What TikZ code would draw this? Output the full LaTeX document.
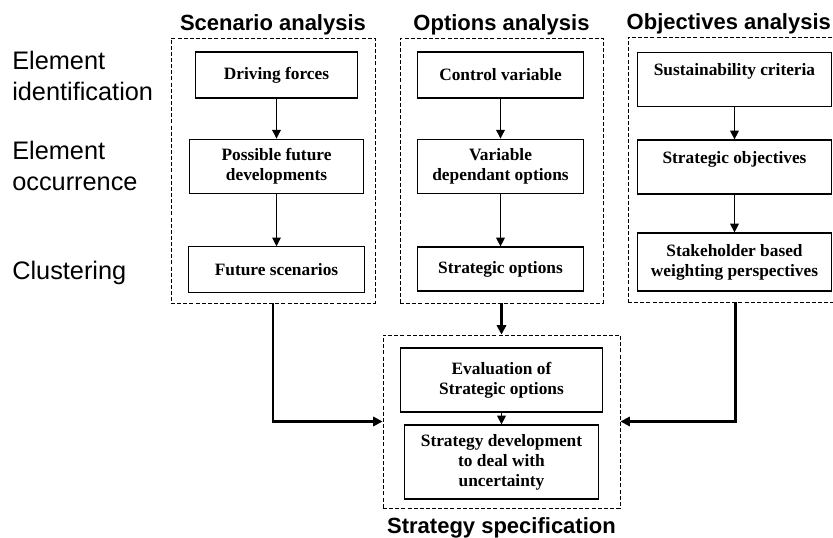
\documentclass[tikz,border=0pt]{standalone}
\usepackage{fontspec}
\setmainfont{Liberation Serif}
\newfontfamily\sansfont{Liberation Sans}
\usetikzlibrary{positioning,fit,arrows.meta}
\tikzset{%
  stage/.style={draw, line width=0.9pt, align=center, inner sep=2pt,
                font=\bfseries\fontsize{13}{15}\selectfont},
  frame/.style={draw, dash pattern=on 3pt off 1.6pt, line width=0.7pt, inner sep=0pt},
  head/.style={font=\sansfont\bfseries\fontsize{16.5}{19}\selectfont, inner sep=1pt},
  rowlabel/.style={font=\sansfont\fontsize{19}{23.5}\selectfont, align=left, inner sep=0pt},
  link/.style={line width=0.8pt, -{Triangle[length=6.5pt, width=6.5pt]}},
  flow/.style={line width=1.6pt, -{Triangle[length=7pt, width=7pt]}},
}

\begin{document}
\begin{tikzpicture}[x=0.75pt, y=-0.75pt]
    \useasboundingbox (0,0) rectangle (833,538);

    %row labels
    \node[rowlabel, anchor=north west] (identLbl) at (12,51) {Element\\identification};
    \node[rowlabel, anchor=north west] (occurLbl) at (12,141) {Element\\occurrence};
    \node[rowlabel, anchor=base west] (clusterLbl) at (12,280) {Clustering};

    %scenario analysis
    \node[stage, minimum width=122pt, minimum height=34.5pt] (drive) at (276.5,75) {Driving forces};
    \node[stage, minimum width=131pt, minimum height=41pt] (possible) at (276.5,166.5) {Possible future\\developments};
    \node[stage, minimum width=132pt, minimum height=34pt] (futScen) at (276.5,269.5) {Future scenarios};

    %options analysis
    \node[stage, minimum width=124pt, minimum height=34.5pt] (control) at (500.5,75) {Control variable};
    \node[stage, minimum width=124pt, minimum height=41pt] (varDep) at (500.5,166.5) {Variable\\dependant options};
    \node[stage, minimum width=124pt, minimum height=33pt] (stratOpt) at (500.5,269) {Strategic options};

    %objectives analysis
    \node[stage, minimum width=146pt, minimum height=41pt] (criteria) at (734.5,79.5) {Sustainability criteria\\~};
    \node[stage, minimum width=146pt, minimum height=40.5pt] (stratObj) at (734.5,167) {Strategic objectives\\~};
    \node[stage, minimum width=146pt, minimum height=43.5pt] (weighting) at (734.5,262) {Stakeholder based\\weighting perspectives};

    %strategy specification
    \node[stage, minimum width=151.5pt, minimum height=48pt] (evalOpt) at (501.5,380) {Evaluation of\\Strategic options};
    \node[stage, minimum width=145.5pt, minimum height=55.5pt] (develop) at (501.5,462) {Strategy development\\to deal with\\uncertainty};

    %dashed groups
    \node[frame, fit={(171,38) (375,303)}] (scenF) {};
    \node[frame, fit={(400,38) (603,303)}] (optF) {};
    \node[frame, fit={(628,37) (843,302)}] (objF) {};
    \node[frame, fit={(383,335) (620,508)}] (stratF) {};

    \node[head, above=0.8pt of scenF] (scenHead) {Scenario analysis};
    \node[head, above=0.8pt of optF] (optHead) {Options analysis};
    \node[head, above=0.8pt of objF, xshift=-5pt] (objHead) {Objectives analysis};
    \node[head, below=5.5pt of stratF] (stratHead) {Strategy specification};

    %links inside the groups
    \draw[link] (drive) -- (possible);
    \draw[link] (possible) -- (futScen);
    \draw[link] (control) -- (varDep);
    \draw[link] (varDep) -- (stratOpt);
    \draw[link] (criteria) -- (stratObj);
    \draw[link] (stratObj) -- (weighting);
    \draw[link] (evalOpt) -- (develop);

    %links between the groups
    \draw[flow] (scenF.south) |- (stratF.west);
    \draw[flow] (optF) -- (stratF);
    \draw[flow] (objF.south) |- (stratF.east);
\end{tikzpicture}
\end{document}
